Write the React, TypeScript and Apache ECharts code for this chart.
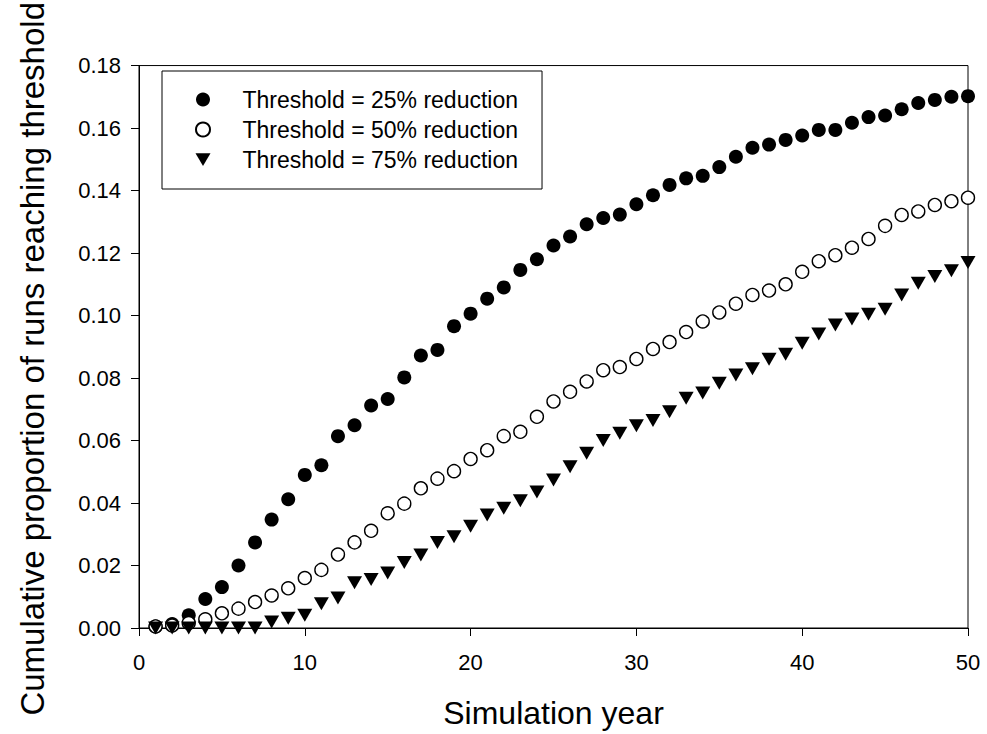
import React, { useEffect, useRef } from "react";
import * as echarts from "echarts";

const years: number[] = Array.from({ length: 50 }, (_, i) => i + 1);

const threshold25: number[] = [
  0.0005, 0.0013, 0.0041, 0.0093, 0.0131, 0.02, 0.0274, 0.0347, 0.0412, 0.049,
  0.0521, 0.0614, 0.0649, 0.0712, 0.0733, 0.0802, 0.0872, 0.089, 0.0966, 0.1006,
  0.1054, 0.109, 0.1146, 0.118, 0.1224, 0.1253, 0.1292, 0.1312, 0.1323, 0.1356,
  0.1385, 0.1418, 0.1439, 0.1447, 0.1475, 0.1508, 0.1537, 0.1547, 0.1562, 0.1576,
  0.1594, 0.1594, 0.1617, 0.1635, 0.164, 0.166, 0.168, 0.169, 0.17, 0.1702,
];

const threshold50: number[] = [
  0.0005, 0.0008, 0.0016, 0.0028, 0.0047, 0.0062, 0.0083, 0.0104, 0.0127, 0.016,
  0.0186, 0.0235, 0.0274, 0.0311, 0.0367, 0.0398, 0.0447, 0.0478, 0.0502, 0.0541,
  0.0569, 0.0614, 0.0628, 0.0676, 0.0725, 0.0756, 0.0789, 0.0825, 0.0835, 0.0861,
  0.0893, 0.0915, 0.0947, 0.0981, 0.101, 0.1038, 0.1066, 0.108, 0.11, 0.114,
  0.1174, 0.1193, 0.1217, 0.1245, 0.1287, 0.1322, 0.1333, 0.1354, 0.1366, 0.1377,
];

const threshold75: number[] = [
  0, 0, 0, 0, 0, 0, 0, 0.0019, 0.0031, 0.0041,
  0.0078, 0.0096, 0.0145, 0.0155, 0.0176, 0.021, 0.0234, 0.0274, 0.0292, 0.0326,
  0.0362, 0.0383, 0.0407, 0.0435, 0.0474, 0.0516, 0.0559, 0.06, 0.0623, 0.0647,
  0.0664, 0.0692, 0.0735, 0.0752, 0.0783, 0.081, 0.083, 0.086, 0.0876, 0.0911,
  0.0941, 0.097, 0.0989, 0.1004, 0.102, 0.1066, 0.1103, 0.1125, 0.1143, 0.117,
];

const seriesNames: string[] = [
  "Threshold = 25% reduction",
  "Threshold = 50% reduction",
  "Threshold = 75% reduction",
];

const xTitle = "Simulation year";
const yTitle = "Cumulative proportion of runs reaching threshold";

const FONT = "'Liberation Sans', Arial, Helvetica, sans-serif";
const TRIANGLE_DOWN = "path://M0,0L20,0L10,17Z";

export default function App() {
  const ref = useRef<HTMLDivElement>(null);

  useEffect(() => {
    if (!ref.current) return;
    const chart = echarts.init(ref.current, undefined, { renderer: "svg" });
    const pair = (vals: number[]) => years.map((y, i) => [y, vals[i]]);

    chart.setOption({
      animation: false,
      backgroundColor: "#ffffff",
      textStyle: { fontFamily: FONT },
      grid: {
        left: 139,
        right: 19,
        top: 50,
        bottom: 104,
        show: true,
        borderColor: "#000",
        borderWidth: 1,
        backgroundColor: "transparent",
      },
      legend: {
        orient: "vertical",
        left: 162,
        top: 71,
        padding: [17, 24, 18, 33],
        borderColor: "#000",
        borderWidth: 1,
        itemWidth: 15,
        itemHeight: 14,
        itemGap: 7,
        selectedMode: false,
        textStyle: {
          fontFamily: FONT,
          fontSize: 23,
          color: "#000",
          lineHeight: 23,
          padding: [0, 0, 0, 27],
        },
        data: seriesNames,
      },
      xAxis: {
        type: "value",
        min: 0,
        max: 50,
        interval: 10,
        name: xTitle,
        nameLocation: "middle",
        nameGap: 69,
        nameTextStyle: { fontFamily: FONT, fontSize: 32, color: "#000" },
        axisLine: { show: true, onZero: false, lineStyle: { color: "#000", width: 1 } },
        axisTick: { show: true, inside: false, length: 8, lineStyle: { color: "#000" } },
        axisLabel: { fontFamily: FONT, fontSize: 22, color: "#000", margin: 23 },
        splitLine: { show: false },
      },
      yAxis: {
        type: "value",
        min: 0,
        max: 0.18,
        interval: 0.02,
        name: yTitle,
        nameLocation: "middle",
        nameGap: 90,
        nameTextStyle: {
          fontFamily: FONT,
          fontSize: 33,
          color: "#000",
          padding: [0, 24, 0, 0],
        },
        axisLine: { show: true, onZero: false, lineStyle: { color: "#000", width: 1 } },
        axisTick: { show: true, inside: false, length: 8, lineStyle: { color: "#000" } },
        axisLabel: {
          fontFamily: FONT,
          fontSize: 22,
          color: "#000",
          margin: 18,
          formatter: (v: number) => v.toFixed(2),
        },
        splitLine: { show: false },
      },
      series: [
        {
          name: seriesNames[0],
          type: "scatter",
          data: pair(threshold25),
          symbol: "circle",
          symbolSize: 14,
          clip: false,
          itemStyle: { color: "#000", opacity: 1 },
        },
        {
          name: seriesNames[1],
          type: "scatter",
          data: pair(threshold50),
          symbol: "circle",
          symbolSize: 13,
          clip: false,
          itemStyle: { color: "#fff", borderColor: "#000", borderWidth: 1.4, opacity: 1 },
        },
        {
          name: seriesNames[2],
          type: "scatter",
          data: pair(threshold75),
          symbol: TRIANGLE_DOWN,
          symbolSize: [15, 13],
          clip: false,
          itemStyle: { color: "#000", opacity: 1 },
        },
      ],
    });

    return () => chart.dispose();
  }, []);

  return (
    <div
      ref={ref}
      style={{ position: "fixed", left: 0, top: 0, width: 987, height: 734, background: "#fff" }}
    />
  );
}
